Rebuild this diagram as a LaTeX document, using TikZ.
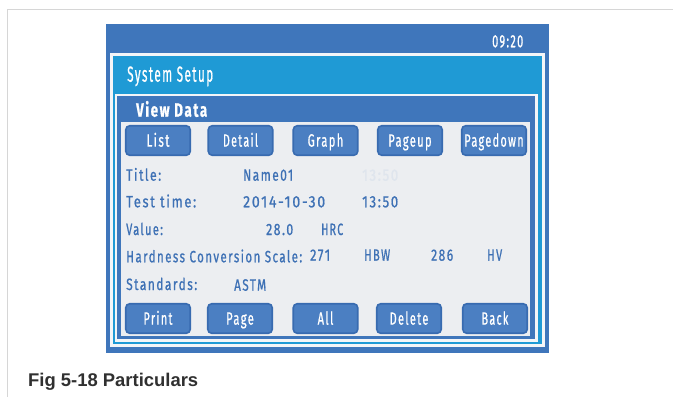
\documentclass[tikz,border=0pt]{standalone}
\usepackage{fontspec}
\usepackage{graphicx}
\newfontfamily\screenfont[FakeStretch=0.72, LetterSpace=9, FakeBold=0.8]{Fira Sans}
\newfontfamily\capfont{Liberation Sans}
\newlength\fitlen
\newcommand\fitw[2]{\settowidth{\fitlen}{#2}\scalebox{\fpeval{(#1)/(\fitlen)}}[1]{#2}}
\definecolor{dblue}{HTML}{3F76BB}
\definecolor{lblue}{HTML}{1F9AD5}
\definecolor{framewhite}{HTML}{F3F5F8}
\definecolor{contentgrey}{HTML}{ECEEF1}
\definecolor{txtblue}{HTML}{3E71B5}
\definecolor{ghost}{HTML}{DFE5ED}
\definecolor{btnfill}{HTML}{4B7FC2}
\definecolor{btnedge}{HTML}{386BB0}
\definecolor{framegrey}{HTML}{D6D6D6}
\definecolor{capgrey}{HTML}{303030}
\tikzset{
  ct/.style={anchor=base west, inner sep=0pt, text=txtblue,
    font={\screenfont\fontsize{16.4bp}{18bp}\selectfont}},
  ghosttxt/.style={ct, text=ghost},
  btn/.style={draw=btnedge, line width=1.6bp, fill=btnfill, rounded corners=4bp,
    text=white, inner sep=0pt, text height=12.3bp, text depth=0pt,
    minimum width=64.5bp, minimum height=29.5bp,
    font={\screenfont\fontsize{17.8bp}{19bp}\selectfont}},
  titletxt/.style={anchor=base west, inner sep=0pt, text=white}
}
\begin{document}
\begin{tikzpicture}[x=1bp,y=-1bp]
\useasboundingbox (0,0) rectangle (673,397);
\fill[white] (0,0) rectangle (673,397);
% page frame
\draw[framegrey, line width=1.6bp] (673,9.5) -| (7.5,397);
% screen layers
\fill[dblue] (106,24) rectangle (549,353);
\fill[framewhite] (110,53) rectangle (545,347);
\fill[lblue] (113,56) rectangle (542,344);
\fill[framewhite] (115,94) rectangle (538,342);
\fill[dblue] (117,96) rectangle (535,339);
\fill[contentgrey] (121,122) rectangle (530,336);
% title texts
\node[titletxt, font={\screenfont\fontsize{17.8bp}{19bp}\selectfont}] (clock) at (492,47.3) {\fitw{31bp}{09:20}};
\node[titletxt, font={\screenfont\fontsize{21.8bp}{23bp}\selectfont}] (syssetup) at (127,81.7) {\fitw{86bp}{System Setup}};
\node[titletxt, font={\screenfont\bfseries\fontsize{19.4bp}{21bp}\selectfont}] (viewdata) at (136,116.7) {\fitw{71bp}{View Data}};
% top buttons
\node[btn] (blist) at (158,140.5) {\fitw{23bp}{List}};
\node[btn] (bdetail) at (240.5,140.5) {\fitw{35bp}{Detail}};
\node[btn] (bgraph) at (325.5,140.5) {\fitw{35.6bp}{Graph}};
\node[btn] (bpageup) at (410,140.5) {\fitw{43.3bp}{Pageup}};
\node[btn] (bpagedown) at (494,140.5) {\fitw{59.3bp}{Pagedown}};
% bottom buttons
\node[btn] (bprint) at (158,318.5) {\fitw{29bp}{Print}};
\node[btn] (bpage) at (240,318.5) {\fitw{27.7bp}{Page}};
\node[btn] (ball) at (325.5,318.5) {\fitw{15.7bp}{All}};
\node[btn] (bdelete) at (409,318.5) {\fitw{38.7bp}{Delete}};
\node[btn] (bback) at (495,318.5) {\fitw{26.7bp}{Back}};
% content
\node[ct] (ltitle) at (126,180.7) {\fitw{35bp}{Title:}};
\node[ct] (vtitle) at (243,180.7) {\fitw{50bp}{Name01}};
\node[ghosttxt] (gtime) at (362,180.7) {\fitw{36bp}{13:50}};
\node[ct] (ltest) at (126,207.3) {\fitw{70bp}{Test time:}};
\node[ct] (vdate) at (243,207.3) {\fitw{82bp}{2014-10-30}};
\node[ct] (vtime) at (362,207.3) {\fitw{36bp}{13:50}};
\node[ct] (lvalue) at (126,235) {\fitw{36.7bp}{Value:}};
\node[ct] (vvalue) at (266,235) {\fitw{27bp}{28.0}};
\node[ct] (vhrc) at (321,235) {\fitw{22bp}{HRC}};
\node[ct] (lhard) at (126,262.3) {\fitw{176bp}{Hardness Conversion Scale:}};
\node[ct] (v271) at (310,260.7) {\fitw{20bp}{271}};
\node[ct] (vhbw) at (364,260.7) {\fitw{26bp}{HBW}};
\node[ct] (v286) at (431,260.7) {\fitw{22bp}{286}};
\node[ct] (vhv) at (487,260.7) {\fitw{15bp}{HV}};
\node[ct] (lstd) at (126,290) {\fitw{71bp}{Standards:}};
\node[ct] (vastm) at (234,290.7) {\fitw{32bp}{ASTM}};
% caption
\node[anchor=base west, inner sep=0pt, text=capgrey,
  font={\capfont\bfseries\fontsize{18.4bp}{20bp}\selectfont}] (caption) at (28,386) {\fitw{170bp}{Fig 5-18 Particulars}};
\end{tikzpicture}
\end{document}
